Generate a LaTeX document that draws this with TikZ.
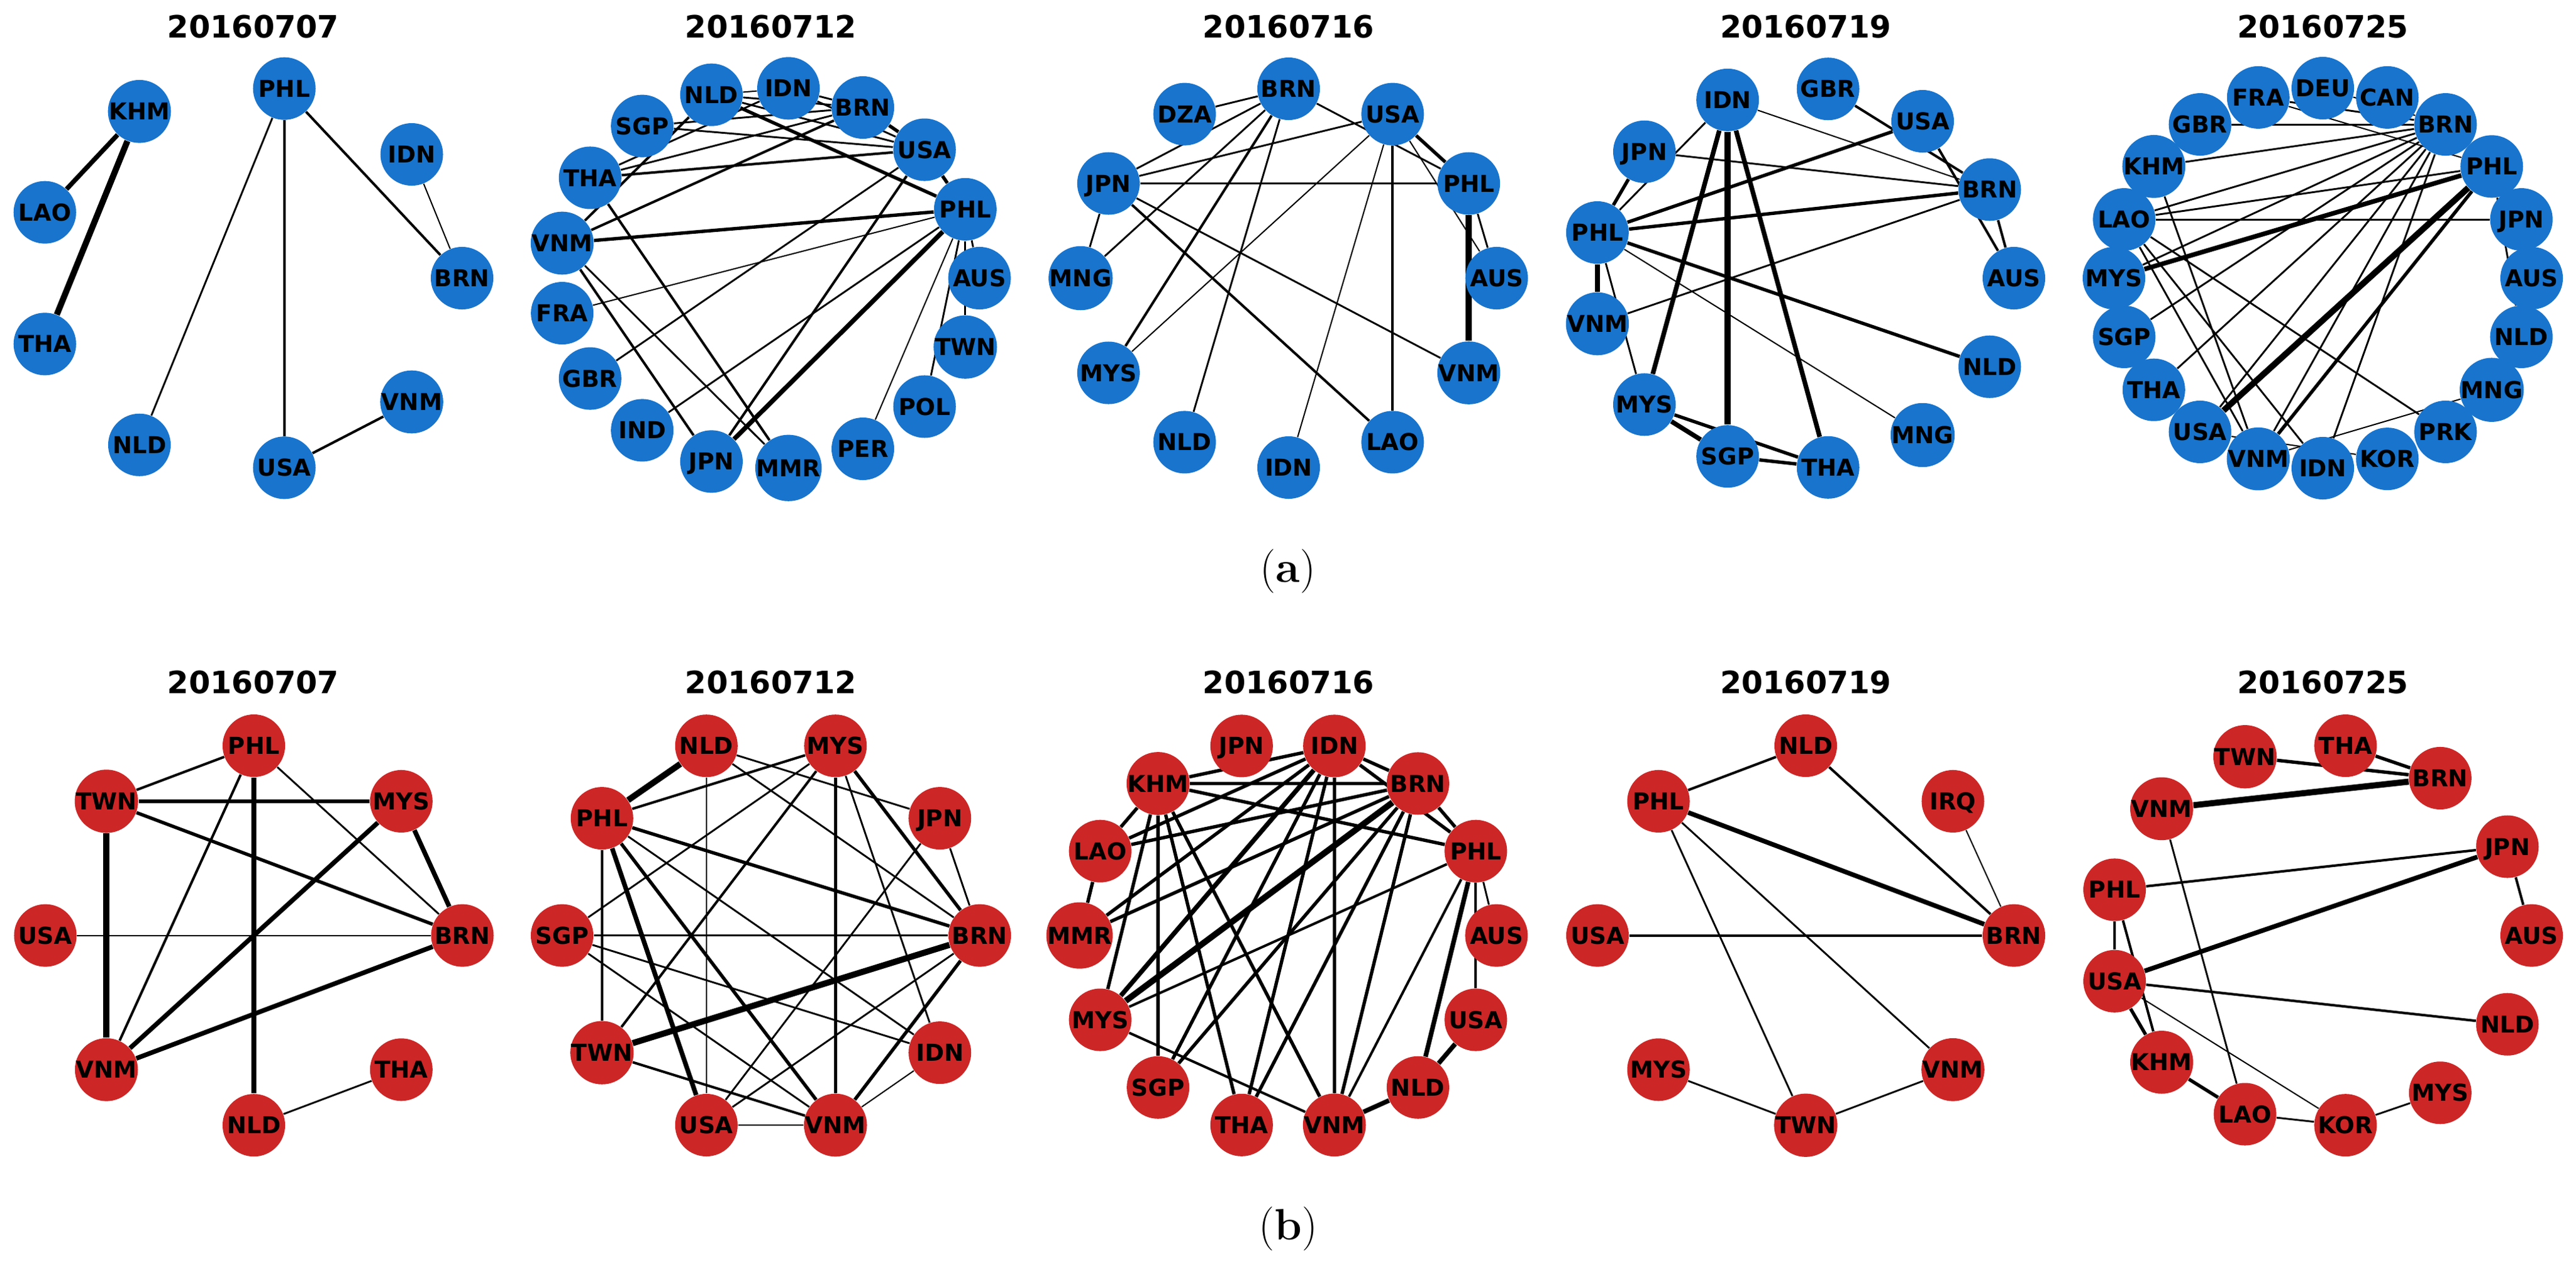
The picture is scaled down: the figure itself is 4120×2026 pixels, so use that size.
\documentclass[tikz,border=0pt]{standalone}
\usepackage{fontspec}
\newfontfamily\djv{DejaVu Sans}
\definecolor{nblue}{RGB}{24,116,205}
\definecolor{nred}{RGB}{205,38,38}
\pgfdeclarelayer{bg}
\pgfsetlayers{bg,main}
\newcommand\drawpanel[8]{%
  \foreach \n [count=\i from 0] in {#8}
    \node[#2] (#1\n) at ({#3+#5*cos(\i*360/#7)},{#4-#6*sin(\i*360/#7)}) {\n};}
\newcommand\drawedges[2]{%
  \foreach \fa/\fb/\fw in {#2} \draw[\fw] (#1\fa) -- (#1\fb);}
\begin{document}
\begin{tikzpicture}[x=0.01cm,y=-0.01cm,
  bn/.style={circle, fill=nblue, minimum size=1cm, inner sep=0pt,
    font={\fontsize{10.6}{12}\djv\bfseries}, text height=7.7pt, text depth=0pt},
  rn/.style={bn, fill=nred},
  ttl/.style={inner sep=0pt, font={\fontsize{14}{16}\djv\bfseries}, text height=10.2pt, text depth=0pt},
  captxt/.style={inner sep=0pt, font={\fontsize{20}{24}\selectfont}, anchor=base},
  wa/.style={line width=0.02cm},
  wb/.style={line width=0.029cm},
  wc/.style={line width=0.04cm},
  wd/.style={line width=0.054cm},
  we/.style={line width=0.074cm},
  wf/.style={line width=0.098cm}]
\useasboundingbox (0,0) rectangle (4120,2026);

% titles
\node[ttl] (ta) at (405,43) {20160707};
\node[ttl] (tb) at (1233,43) {20160712};
\node[ttl] (tc) at (2061,43) {20160716};
\node[ttl] (td) at (2888,43) {20160719};
\node[ttl] (te) at (3715,43) {20160725};
\node[ttl] (ba) at (405,1092) {20160707};
\node[ttl] (bb) at (1233,1092) {20160712};
\node[ttl] (bc) at (2061,1092) {20160716};
\node[ttl] (bd) at (2888,1092) {20160719};
\node[ttl] (be) at (3715,1092) {20160725};
\node[captxt] (capa) at (2060,931) {(\textbf{a})};
\node[captxt] (capb) at (2060,1983) {(\textbf{b})};

% nodes, top row
\drawpanel{tA}{bn}{395}{445}{344}{308}{9}{BRN,IDN,PHL,KHM,LAO,THA,NLD,USA,VNM}
\drawpanel{tB}{bn}{1230}{445}{336.6}{305}{17}{AUS,PHL,USA,BRN,IDN,NLD,SGP,THA,VNM,FRA,GBR,IND,JPN,MMR,PER,POL,TWN}
\drawpanel{tC}{bn}{2061}{445}{332.7}{303}{12}{AUS,PHL,USA,BRN,DZA,JPN,MNG,MYS,NLD,IDN,LAO,VNM}
\drawpanel{tD}{bn}{2883}{445}{338}{305}{13}{AUS,BRN,USA,GBR,IDN,JPN,PHL,VNM,MYS,SGP,THA,MNG,NLD}
\drawpanel{tE}{bn}{3715}{445}{334}{304}{20}{AUS,JPN,PHL,BRN,CAN,DEU,FRA,GBR,KHM,LAO,MYS,SGP,THA,USA,VNM,IDN,KOR,PRK,MNG,NLD}
% nodes, bottom row
\drawpanel{bA}{rn}{406}{1496.6}{333.5}{303.6}{8}{BRN,MYS,PHL,TWN,USA,VNM,NLD,THA}
\drawpanel{bB}{rn}{1233}{1496.6}{334}{319}{10}{BRN,JPN,MYS,NLD,PHL,SGP,TWN,USA,VNM,IDN}
\drawpanel{bC}{rn}{2060}{1496.6}{333.4}{311}{14}{AUS,PHL,BRN,IDN,JPN,KHM,LAO,MMR,MYS,SGP,THA,VNM,NLD,USA}
\drawpanel{bD}{rn}{2888}{1496.6}{333}{303.6}{8}{BRN,IRQ,NLD,PHL,USA,MYS,TWN,VNM}
\drawpanel{bE}{rn}{3710.6}{1496.6}{338.4}{305.8}{13}{AUS,JPN,BRN,THA,TWN,VNM,PHL,USA,KHM,LAO,KOR,MYS,NLD}

\begin{pgfonlayer}{bg}
\fill[white] (0,0) rectangle (4120,2026);
\drawedges{tA}{KHM/LAO/we, KHM/THA/wf, PHL/NLD/wb, PHL/USA/wc, PHL/BRN/wc, IDN/BRN/wa, USA/VNM/wc}
\drawedges{tB}{NLD/PHL/wd, NLD/IDN/wa, NLD/BRN/wb, NLD/USA/wb, NLD/VNM/wc, IDN/BRN/wb, IDN/USA/wb,
  SGP/USA/wb, SGP/BRN/wb, THA/IDN/wb, THA/BRN/wb, THA/USA/wc, VNM/BRN/wc, VNM/PHL/wd,
  VNM/JPN/wc, VNM/MMR/wb, THA/MMR/wc, FRA/PHL/wa, GBR/USA/wb, IND/PHL/wb, JPN/USA/wc,
  JPN/PHL/we, PHL/PER/wa, PHL/POL/wb, PHL/TWN/wb, PHL/AUS/wb, USA/PHL/wd, BRN/USA/wd}
\drawedges{tC}{BRN/DZA/wb, BRN/JPN/wb, BRN/MNG/wb, BRN/MYS/wc, BRN/NLD/wb, BRN/PHL/wb,
  USA/JPN/wb, USA/MYS/wa, USA/IDN/wa, USA/LAO/wc, USA/PHL/wd, USA/AUS/wa, PHL/AUS/wb,
  PHL/VNM/wf, JPN/PHL/wb, JPN/MNG/wb, JPN/LAO/wc, JPN/VNM/wb}
\drawedges{tD}{GBR/BRN/wc, USA/AUS/wc, BRN/AUS/wc, IDN/BRN/wa, PHL/IDN/wb, PHL/JPN/wd,
  JPN/BRN/wb, PHL/USA/wd, PHL/BRN/wd, VNM/BRN/wb, PHL/NLD/wd, PHL/MNG/wa, PHL/VNM/we,
  PHL/MYS/wb, IDN/MYS/we, IDN/SGP/wf, IDN/THA/we, MYS/SGP/we, MYS/THA/wd, SGP/THA/wd}
\drawedges{tE}{GBR/BRN/wb, FRA/BRN/wb, DEU/BRN/wa, FRA/PHL/wa, KHM/BRN/wb, LAO/BRN/wb,
  LAO/PHL/wb, LAO/JPN/wb, MYS/BRN/wb, MYS/PHL/we, SGP/BRN/wb, THA/BRN/wb, USA/BRN/wb,
  VNM/BRN/wb, IDN/BRN/wb, USA/PHL/wf, VNM/PHL/wd, PHL/NLD/wb, KHM/VNM/wb, LAO/VNM/wb,
  LAO/IDN/wb, LAO/PRK/wb, USA/KOR/wa, VNM/MNG/wa}
\drawedges{bA}{PHL/TWN/wc, PHL/VNM/wc, PHL/NLD/we, PHL/BRN/wb, TWN/MYS/wd, TWN/BRN/wd,
  TWN/VNM/wf, USA/BRN/wa, MYS/VNM/we, MYS/BRN/we, VNM/BRN/we, NLD/THA/wb}
\drawedges{bB}{NLD/PHL/wf, NLD/JPN/wb, NLD/BRN/wb, NLD/USA/wa, MYS/PHL/wc, MYS/SGP/wb,
  MYS/TWN/wc, MYS/VNM/wd, MYS/BRN/wd, MYS/IDN/wb, JPN/BRN/wb, JPN/USA/wb, PHL/BRN/wd,
  PHL/TWN/wc, PHL/USA/we, PHL/VNM/wd, PHL/IDN/wb, SGP/BRN/wb, SGP/IDN/wb, SGP/VNM/wb,
  TWN/BRN/wf, TWN/VNM/wc, USA/BRN/wb, USA/VNM/wa, VNM/BRN/wd, VNM/IDN/wa}
\drawedges{bC}{KHM/IDN/wd, KHM/BRN/wd, KHM/PHL/wd, IDN/BRN/wd, IDN/PHL/wd, BRN/PHL/wd,
  LAO/IDN/wd, LAO/BRN/wd, MMR/IDN/wd, MMR/BRN/wd, MYS/IDN/we, MYS/BRN/wf, MYS/KHM/wd,
  MYS/PHL/wc, MYS/VNM/wc, SGP/KHM/wd, SGP/IDN/wd, SGP/BRN/wd, THA/KHM/wd, THA/IDN/wd,
  THA/BRN/wd, VNM/KHM/wd, VNM/IDN/wd, VNM/BRN/wd, VNM/PHL/wc, VNM/NLD/we, NLD/PHL/we,
  NLD/USA/we, PHL/USA/wc, PHL/AUS/wb, LAO/MMR/wd, KHM/LAO/wd}
\drawedges{bD}{PHL/NLD/wc, NLD/BRN/wc, IRQ/BRN/wa, PHL/BRN/we, PHL/TWN/wb, PHL/VNM/wb,
  USA/BRN/wc, MYS/TWN/wb, TWN/VNM/wb}
\drawedges{bE}{TWN/BRN/wd, THA/BRN/wd, VNM/BRN/wf, VNM/LAO/wb, PHL/JPN/wc, USA/JPN/we,
  JPN/AUS/wc, PHL/USA/wc, PHL/KHM/wc, USA/KHM/wd, USA/NLD/wc, USA/KOR/wa, KHM/LAO/wd,
  LAO/KOR/wb, KOR/MYS/wb}
\end{pgfonlayer}
\end{tikzpicture}
\end{document}
